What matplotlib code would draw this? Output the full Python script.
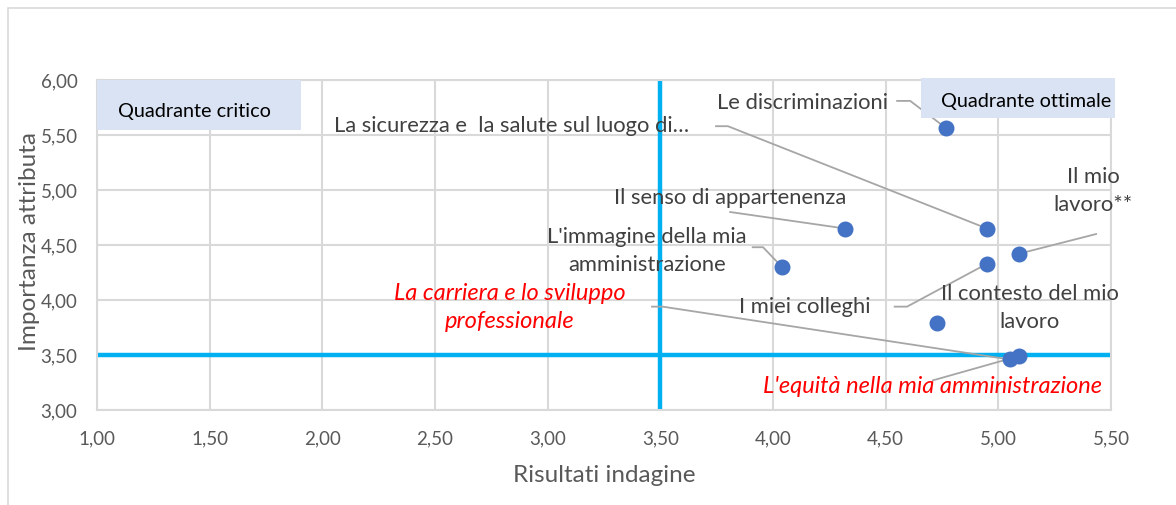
import matplotlib.pyplot as plt
from matplotlib.patches import Rectangle

plt.rcParams["font.family"] = ["Lato", "DejaVu Sans"]

# Data
labels = [
    "Le discriminazioni",
    "La sicurezza e  la salute sul luogo di…",
    "Il senso di appartenenza",
    "L'immagine della mia\namministrazione",
    "Il mio\nlavoro**",
    "I miei colleghi",
    "Il contesto del mio\nlavoro",
    "La carriera e lo sviluppo\nprofessionale",
    "L'equità nella mia amministrazione",
]
risultati = [4.77, 4.95, 4.32, 4.04, 5.09, 4.95, 4.73, 5.05, 5.09]
importanza = [5.56, 4.65, 4.65, 4.30, 4.42, 4.33, 3.79, 3.46, 3.49]
highlight = [False, False, False, False, False, False, False, True, True]

x_ticks = [1.0, 1.5, 2.0, 2.5, 3.0, 3.5, 4.0, 4.5, 5.0, 5.5]
y_ticks = [3.0, 3.5, 4.0, 4.5, 5.0, 5.5, 6.0]
soglia_x = 3.5
soglia_y = 3.5

# Layout: label anchor (x, y, ha) and leader start/bend (None = no leader)
label_pos = [
    (4.51, 5.79, "right"),
    (3.63, 5.58, "right"),
    (3.81, 4.93, "center"),
    (3.44, 4.45, "center"),
    (5.42, 4.99, "center"),
    (4.435, 3.94, "right"),
    (5.14, 3.93, "center"),
    (2.83, 3.93, "center"),
    (4.71, 3.21, "center"),
]
leaders = [
    [(4.551, 5.81), (4.609, 5.81)],
    [(3.747, 5.58), (3.80, 5.58)],
    [(3.81, 4.80)],
    [(3.91, 4.48), (3.956, 4.48)],
    [(5.434, 4.60)],
    [(4.54, 3.94), (4.595, 3.94)],
    None,
    [(3.463, 3.94), (3.51, 3.94)],
    [(4.71, 3.27)],
]

GRAY_TXT = "#595959"
GRID = "#D9D9D9"
LEADER = "#A6A6A6"
BLUE_LINE = "#00B0F0"
DOT = "#4472C4"
BOX = "#DAE3F3"

fig = plt.figure(figsize=(11.76, 5.05), dpi=100)
ax = fig.add_axes([0.0825, 0.188, 0.8622, 0.6536])

ax.set_xlim(1.0, 5.5)
ax.set_ylim(3.0, 6.0)
ax.set_xticks(x_ticks)
ax.set_yticks(y_ticks)
ax.set_xticklabels([f"{v:.2f}".replace(".", ",") for v in x_ticks])
ax.set_yticklabels([f"{v:.2f}".replace(".", ",") for v in y_ticks])
ax.tick_params(length=0, labelsize=13.5, colors=GRAY_TXT)
ax.tick_params(axis="x", pad=14.5)
ax.tick_params(axis="y", pad=14)
ax.grid(True, color=GRID, lw=1.5)
ax.set_axisbelow(True)
for s in ax.spines.values():
    s.set_color(GRID)
    s.set_linewidth(1.5)

ax.set_xlabel("Risultati indagine", fontsize=17.5, color=GRAY_TXT, va="center")
ax.xaxis.set_label_coords(0.5, -0.197)
ax.set_ylabel("Importanza attributa", fontsize=17.5, color=GRAY_TXT,
              va="center", ha="center")
ax.yaxis.set_label_coords(-0.067, 0.51)

ax.axvline(soglia_x, color=BLUE_LINE, lw=3.2, zorder=2)
ax.axhline(soglia_y, color=BLUE_LINE, lw=3.2, zorder=2)

# leader lines
for i, ld in enumerate(leaders):
    if ld is None:
        continue
    xs = [p[0] for p in ld] + [risultati[i]]
    ys = [p[1] for p in ld] + [importanza[i]]
    ax.plot(xs, ys, color=LEADER, lw=1.3, zorder=3, clip_on=False)

ax.scatter(risultati, importanza, s=110, color=DOT, zorder=4, clip_on=False)

for i, lab in enumerate(labels):
    lx, ly, ha = label_pos[i]
    if highlight[i]:
        ax.text(lx, ly, lab, ha=ha, va="center", fontsize=17, color="red",
                style="italic", linespacing=1.4, zorder=5)
    else:
        ax.text(lx, ly, lab, ha=ha, va="center", fontsize=15.8, color="#404040",
                linespacing=1.5, zorder=5)

# quadrant boxes
ax.add_patch(Rectangle((1.0, 5.545), 0.905, 0.455, facecolor=BOX,
                       edgecolor="none", zorder=3))
ax.text(1.095, 5.71, "Quadrante critico", fontsize=14.3, color="black",
        va="center", ha="left", zorder=4)
ax.add_patch(Rectangle((4.657, 5.655), 0.86, 0.36, facecolor=BOX,
                       edgecolor="none", zorder=3, clip_on=False))
ax.text(4.745, 5.80, "Quadrante ottimale", fontsize=14.3, color="black",
        va="center", ha="left", zorder=4)

# chart border
fig.patches.append(Rectangle((0.007, -0.01), 1.0, 0.995, transform=fig.transFigure,
                             fill=False, edgecolor=GRID, lw=1.2))

fig.savefig("out.png", dpi=100)
